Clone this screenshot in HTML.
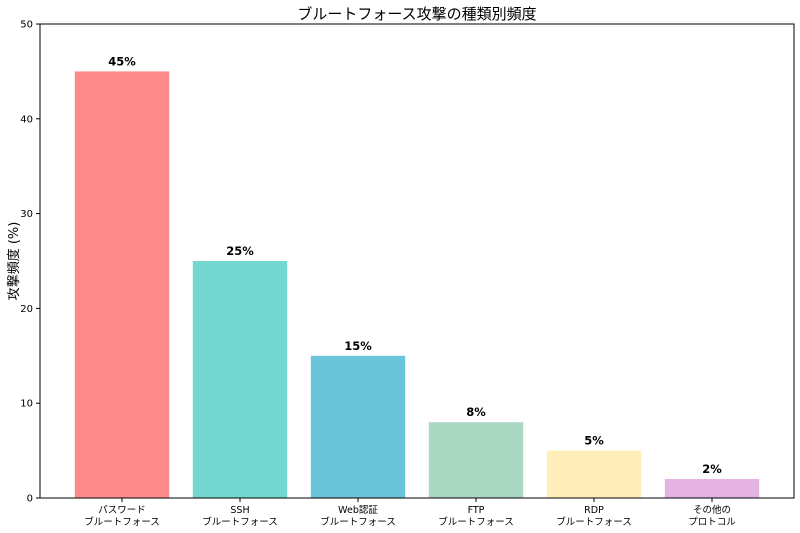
<!DOCTYPE html>
<html><head><meta charset="utf-8">
<style>
body{margin:0;background:#fff;}
svg{display:block;font-family:"DejaVu Sans","Noto Sans CJK JP",sans-serif;}
</style></head>
<body>
<svg id="chart" width="800" height="533" viewBox="0 0 800 533">
<text x="417" y="19" text-anchor="middle" font-size="15" font-family="'DejaVu Sans','Noto Sans CJK JP',sans-serif">ブルートフォース攻撃の種類別頻度</text>
<text transform="translate(18,261) rotate(-90)" text-anchor="middle" font-size="13">攻撃頻度 (%)</text>
<g id="bars"></g>
<g id="yaxis"></g>
<g id="xaxis"></g>
<rect x="40" y="24" width="754" height="474" fill="none" stroke="#000" stroke-width="1"/>
</svg>
<script>
const categories = [["パスワード","ブルートフォース"],["SSH","ブルートフォース"],["Web認証","ブルートフォース"],["FTP","ブルートフォース"],["RDP","ブルートフォース"],["その他の","プロトコル"]];
const values = [45, 25, 15, 8, 5, 2];
const valueLabels = ["45%","25%","15%","8%","5%","2%"];
const colors = ["#ff8a8a","#73d7d0","#6ac5da","#abd8c3","#ffeeb9","#e4b3e4"];
const yTicks = [0,10,20,30,40,50];

const NS="http://www.w3.org/2000/svg";
const L=40,R=794,T=24,B=498,yMax=50;
const xMin=-0.695,xMax=5.695;
const X=v=>L+(v-xMin)/(xMax-xMin)*(R-L);
const Y=v=>B-v/yMax*(B-T);
function mk(tag,attrs,parent){const e=document.createElementNS(NS,tag);for(const k in attrs)e.setAttribute(k,attrs[k]);parent.appendChild(e);return e;}
const gb=document.getElementById('bars'),gy=document.getElementById('yaxis'),gx=document.getElementById('xaxis');
values.forEach((v,i)=>{
  const x0=X(i-0.4),x1=X(i+0.4);
  const r=mk('rect',{x:x0,y:Y(v),width:x1-x0,height:B-Y(v),fill:colors[i]},gb);
  
  
  const t=mk('text',{x:X(i),y:Y(v)-6,'text-anchor':'middle','font-size':'11.5','font-weight':'bold'},gb);
  t.textContent=valueLabels[i];
  
  
  const tk=mk('line',{x1:X(i),x2:X(i),y1:B,y2:B+4,stroke:'#000'},gx);
  
  
  categories[i].forEach((line,j)=>{
    const c=mk('text',{x:X(i),y:B+15+j*12,'text-anchor':'middle','font-size':'9.5'},gx);
    c.textContent=line;
    
    
  });
});
yTicks.forEach(v=>{
  const tk=mk('line',{x1:L-4,x2:L,y1:Y(v),y2:Y(v),stroke:'#000'},gy);
  
  
  const t=mk('text',{x:L-7,y:Y(v)+3.5,'text-anchor':'end','font-size':'10'},gy);
  t.textContent=v;
  
  
});
</script>
</body></html>
